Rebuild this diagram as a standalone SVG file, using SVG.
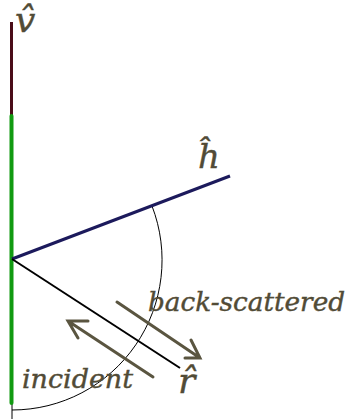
<svg xmlns="http://www.w3.org/2000/svg" width="356" height="419" viewBox="0 0 356 419">
<style>
.lbl{font-family:"DejaVu Serif","Liberation Serif",serif;font-style:italic;fill:#514b36;stroke:#514b36;stroke-width:0.4}
.arr{stroke:#5a5540;stroke-width:3;fill:none;stroke-linecap:round}
</style>
<rect width="356" height="419" fill="#fff"/>
<g id="axes">
<line x1="12" y1="395" x2="12" y2="419" stroke="#000" stroke-width="1"/>
<line x1="11.5" y1="22" x2="11.5" y2="117" stroke="#4a0c18" stroke-width="3"/>
<line x1="11.5" y1="116" x2="11.5" y2="403" stroke="#119a11" stroke-width="4" stroke-linecap="round"/>
</g>
<g id="connectors">
<path d="M152,206 A150,150 0 0 1 12,410" fill="none" stroke="#000" stroke-width="1"/>
<line x1="12" y1="259" x2="230" y2="176" stroke="#1c1a5c" stroke-width="3"/>
<line x1="12" y1="259" x2="180" y2="368" stroke="#000" stroke-width="2"/>
<g id="backscattered-arrow">
<path class="arr" d="M117,302 L200,358 M191,340 L200,358 L185,358"/>
</g>
<g id="incident-arrow">
<path class="arr" d="M153,377 L68,321 M88,321 L68,321 L78,338"/>
</g>
</g>
<g id="labels">
<text class="lbl" x="15" y="32" font-size="36">v̂</text>
<text class="lbl" x="198" y="168" font-size="34">ĥ</text>
<text class="lbl" x="178" y="393" font-size="36">r̂</text>
<text class="lbl" x="148" y="311" font-size="26" textLength="197" lengthAdjust="spacingAndGlyphs">back-scattered</text>
<text class="lbl" x="22" y="388" font-size="26" textLength="111" lengthAdjust="spacingAndGlyphs">incident</text>
</g>
</svg>
